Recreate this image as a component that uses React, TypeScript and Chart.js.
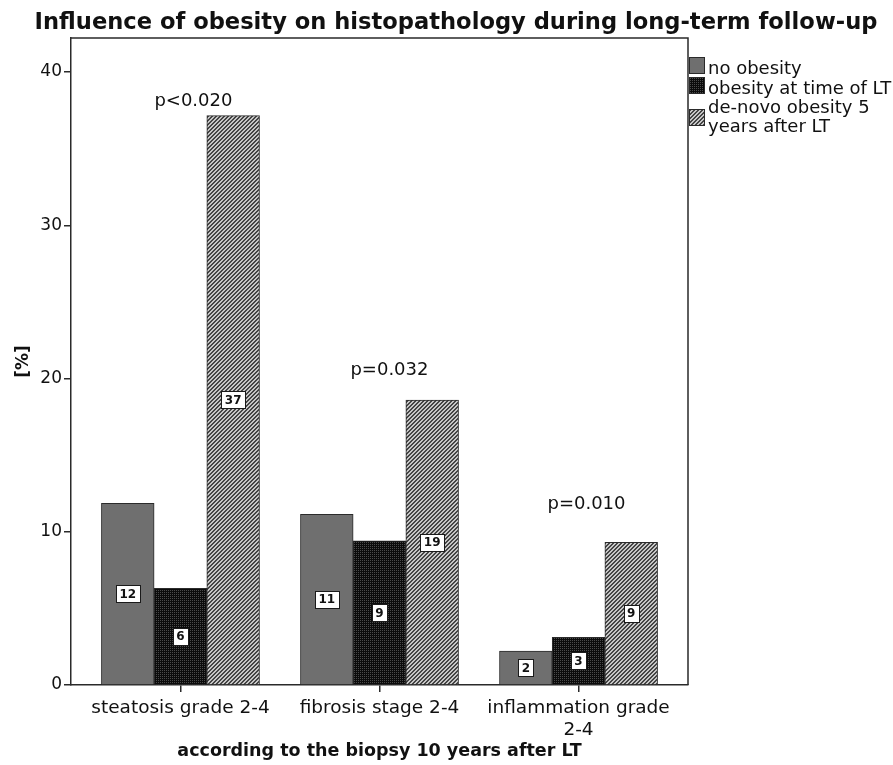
import React, { useEffect, useRef } from 'react';
import { Chart, registerables } from 'chart.js';

Chart.register(...registerables);

// ---- data ----
const categoryLines: string[][] = [
  ['steatosis grade 2-4'],
  ['fibrosis stage 2-4'],
  ['inflammation grade', '2-4'],
];
const seriesNames = ['no obesity', 'obesity at time of LT', 'de-novo obesity 5 years after LT'];
const noObesity = [11.86, 11.14, 2.22];
const obesityAtLT = [6.31, 9.4, 3.11];
const deNovoObesity = [37.15, 18.6, 9.31];
const pValues = ['p<0.020', 'p=0.032', 'p=0.010'];
const yTicks = [0, 10, 20, 30, 40];

const chartTitle = 'Influence of obesity on histopathology during long-term follow-up';
const xTitle = 'according to the biopsy 10 years after LT';
const yTitle = '[%]';

// ---- styling ----
const FONT = '"DejaVu Sans", "Noto Sans", sans-serif';
const INK = '#111111';
const AXIS = '#2a2a2a';
const GREY = '#6f6f6f';

// anchor of each p-value note, in axis units (x offset from category, y value)
const pNoteX = [0.065, 1.05, 2.04];
const pNoteY = [38.1, 20.55, 11.8];

function makeDotPattern(ctx: CanvasRenderingContext2D): CanvasPattern {
  const c = document.createElement('canvas');
  c.width = 2;
  c.height = 2;
  const g = c.getContext('2d')!;
  g.fillStyle = '#0b0b0b';
  g.fillRect(0, 0, 2, 2);
  g.fillStyle = '#4a4a4a';
  g.fillRect(0, 0, 1, 1);
  return ctx.createPattern(c, 'repeat')!;
}

function makeHatchPattern(ctx: CanvasRenderingContext2D): CanvasPattern {
  const c = document.createElement('canvas');
  c.width = 4;
  c.height = 4;
  const g = c.getContext('2d')!;
  g.fillStyle = '#c6c6c6';
  g.fillRect(0, 0, 4, 4);
  g.fillStyle = '#444444';
  for (let y = 0; y < 4; y++) {
    g.fillRect((3 - y + 4) % 4, y, 1, 1);
    g.fillRect((4 - y + 4) % 4, y, 1, 1);
  }
  return ctx.createPattern(c, 'repeat')!;
}

export default function App() {
  const ref = useRef<HTMLCanvasElement>(null);

  useEffect(() => {
    document.body.style.margin = '0';
    const canvas = ref.current!;
    const ctx = canvas.getContext('2d')!;
    const fills: (string | CanvasPattern)[] = [GREY, makeDotPattern(ctx), makeHatchPattern(ctx)];
    const seriesValues = [noObesity, obesityAtLT, deNovoObesity];

    const decorations = {
      id: 'decorations',
      afterDraw(chart: any) {
        const c: CanvasRenderingContext2D = chart.ctx;
        const { left, right, top, bottom } = chart.chartArea;
        const xs = chart.scales.x;
        const ys = chart.scales.y;
        c.save();

        // top and right frame
        c.strokeStyle = AXIS;
        c.lineWidth = 1.5;
        c.beginPath();
        c.moveTo(left, top);
        c.lineTo(right, top);
        c.lineTo(right, bottom);
        c.stroke();

        // value boxes in the middle of each bar
        c.font = `bold 12px ${FONT}`;
        c.textAlign = 'center';
        c.textBaseline = 'middle';
        chart.data.datasets.forEach((ds: any, di: number) => {
          const meta = chart.getDatasetMeta(di);
          meta.data.forEach((bar: any, i: number) => {
            const text = String(Math.round(ds.data[i].y));
            const cy = (bar.y + bar.base) / 2;
            const w = Math.round(c.measureText(text).width + 7);
            const h = 17;
            const bx = Math.round(bar.x - w / 2) + 0.5;
            const by = Math.round(cy - h / 2) + 0.5;
            c.fillStyle = '#ffffff';
            c.fillRect(bx, by, w, h);
            c.strokeStyle = '#1a1a1a';
            c.lineWidth = 1;
            c.strokeRect(bx, by, w, h);
            c.fillStyle = INK;
            c.fillText(text, bar.x, cy + 1);
          });
        });

        // p-value notes
        c.font = `18px ${FONT}`;
        c.fillStyle = INK;
        pValues.forEach((p, i) => {
          c.fillText(p, xs.getPixelForValue(pNoteX[i]), ys.getPixelForValue(pNoteY[i]));
        });

        // chart title
        c.font = `bold 22.6px ${FONT}`;
        c.textBaseline = 'alphabetic';
        c.fillText(chartTitle, 456, 29);

        // legend
        const legendRows = [
          { swatchTop: 57, lines: ['no obesity'], baselines: [74] },
          { swatchTop: 77, lines: ['obesity at time of LT'], baselines: [93.5] },
          { swatchTop: 109, lines: ['de-novo obesity 5', 'years after LT'], baselines: [113, 131.5] },
        ];
        c.font = `18px ${FONT}`;
        c.textAlign = 'left';
        legendRows.forEach((row, s) => {
          c.fillStyle = fills[s] as any;
          c.fillRect(689, row.swatchTop, 15, 16);
          c.strokeStyle = AXIS;
          c.lineWidth = 1;
          c.strokeRect(689.5, row.swatchTop + 0.5, 15, 16);
          c.fillStyle = INK;
          row.lines.forEach((line, li) => c.fillText(line, 708, row.baselines[li]));
        });

        c.restore();
      },
    };

    const chart = new Chart(canvas, {
      type: 'bar',
      data: {
        datasets: seriesNames.map((name, s) => ({
          label: name,
          data: seriesValues[s].map((v, i) => ({ x: i, y: v })),
          backgroundColor: fills[s] as any,
          borderColor: '#2b2b2b',
          borderWidth: 1,
          barThickness: 52.7,
        })),
      },
      options: {
        responsive: false,
        animation: false,
        devicePixelRatio: 1,
        layout: { padding: { top: 38, right: 205, left: 0, bottom: 0 } },
        plugins: {
          legend: { display: false },
          tooltip: { enabled: false },
          title: { display: false },
        },
        scales: {
          x: {
            type: 'linear',
            min: -0.55,
            max: 2.55,
            offset: false,
            afterBuildTicks: (axis: any) => {
              axis.ticks = categoryLines.map((_, i) => ({ value: i }));
            },
            afterFit: (axis: any) => {
              axis.height = 80;
            },
            ticks: {
              autoSkip: false,
              maxRotation: 0,
              padding: 5,
              color: INK,
              font: { family: FONT, size: 18.5 },
              callback: (v: any) => categoryLines[Math.round(Number(v))],
            },
            grid: {
              offset: false,
              drawOnChartArea: false,
              drawTicks: true,
              tickLength: 7,
              color: AXIS,
              lineWidth: 1.5,
            },
            border: { display: true, color: AXIS, width: 1.5 },
            title: {
              display: true,
              text: xTitle,
              color: INK,
              font: { family: FONT, size: 17.5, weight: 'bold' },
              padding: { top: 0, bottom: 3 },
            },
          },
          y: {
            type: 'linear',
            min: 0,
            max: 42.22,
            afterBuildTicks: (axis: any) => {
              axis.ticks = yTicks.map((v) => ({ value: v }));
            },
            afterFit: (axis: any) => {
              axis.width = 71;
            },
            ticks: {
              padding: 2,
              color: INK,
              font: { family: FONT, size: 17 },
            },
            grid: { drawOnChartArea: false, drawTicks: true, tickLength: 7, color: AXIS, lineWidth: 1.5 },
            border: { display: true, color: AXIS, width: 1.5 },
            title: {
              display: true,
              text: yTitle,
              color: INK,
              font: { family: FONT, size: 17, weight: 'bold' },
              padding: { top: 13, bottom: 0 },
            },
          },
        },
      } as any,
      plugins: [decorations],
    });

    return () => chart.destroy();
  }, []);

  return <canvas ref={ref} width={893} height={765} style={{ display: 'block' }} />;
}
